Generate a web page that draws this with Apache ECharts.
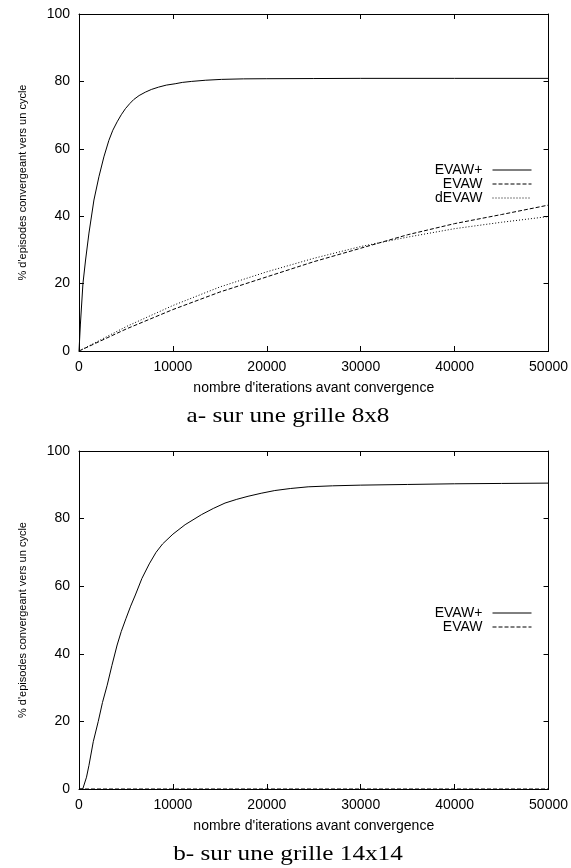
<!DOCTYPE html>
<html>
<head>
<meta charset="utf-8">
<script src="https://cdn.jsdelivr.net/npm/echarts@6/dist/echarts.min.js"></script>
<style>
html,body{margin:0;padding:0;background:#fff;}
#c{width:571px;height:868px;}
</style>
</head>
<body>
<div id="c"></div>
<script>
// ---- data ----
var xTicks = [0, 10000, 20000, 30000, 40000, 50000];
var yTicks = [0, 20, 40, 60, 80, 100];

// (a) 8x8 grid
var a_plus_x = [0, 150, 420, 700, 1060, 1590, 2120, 2650, 3180, 3600, 4060, 4500, 4940, 5400, 5820, 6400, 7060, 7700, 8470, 9300, 10240, 11000, 12000, 13500, 15180, 17500, 20000, 25000, 30000, 40000, 50000];
var a_plus_y = [0, 8, 20, 27, 35, 44.8, 51.7, 57.6, 62.5, 65.5, 68, 70.1, 71.9, 73.4, 74.6, 75.8, 76.8, 77.6, 78.3, 78.9, 79.3, 79.7, 80.0, 80.35, 80.6, 80.75, 80.8, 80.85, 80.9, 80.9, 80.9];
var a_evaw_x = [0, 5000, 10000, 15000, 20000, 25000, 30000, 35000, 40000, 45000, 50000];
var a_evaw_y = [0, 6.5, 12.3, 17.5, 22, 26.5, 30.5, 34.5, 37.8, 40.5, 43.3];
var a_devaw_x = [0, 5000, 10000, 15000, 20000, 25000, 30000, 35000, 40000, 45000, 50000];
var a_devaw_y = [0, 7.2, 13.5, 19, 23.5, 27.5, 31, 33.8, 36.3, 38.2, 39.9];

// (b) 14x14 grid
var b_plus_x = [0, 400, 800, 1060, 1520, 2050, 2500, 3000, 3500, 4060, 4500, 5010, 5500, 6000, 6700, 7480, 8200, 8900, 10000, 11300, 13060, 14300, 15550, 16800, 18000, 19400, 20850, 22500, 24400, 27000, 30000, 35000, 40000, 45000, 50000];
var b_plus_y = [0, 0, 3.5, 7, 14, 20, 25.6, 30.7, 36.5, 42.6, 46.6, 50.5, 54.1, 57.4, 62.3, 66.6, 70.0, 72.5, 75.4, 78.2, 81.2, 83.0, 84.6, 85.7, 86.6, 87.5, 88.3, 88.9, 89.4, 89.7, 89.9, 90.1, 90.3, 90.4, 90.5];
var b_evaw_x = [0, 50000];
var b_evaw_y = [0, 0];

var captionA = 'a- sur une grille 8x8';
var captionB = 'b- sur une grille 14x14';

function pairs(xs, ys){ var o=[]; for (var i=0;i<xs.length;i++) o.push([xs[i], ys[i]]); return o; }

var SANS = 'Liberation Sans, Arial, sans-serif';
var SERIF = 'Liberation Serif, Times New Roman, serif';

function xAx(grid, pos, labels){
  return {
    type:'value', gridIndex:grid, position:pos, min:xTicks[0], max:xTicks[xTicks.length-1], interval:10000,
    axisLine:{show:true, onZero:false, lineStyle:{color:'#000', width:1}},
    axisTick:{show:true, inside:true, length:5, lineStyle:{color:'#000'}},
    axisLabel:{show:labels, color:'#000', fontSize:14, fontFamily:SANS, margin:9, formatter:function(v){return String(v);}},
    splitLine:{show:false},
    name: labels ? "nombre d'iterations avant convergence" : '',
    nameLocation:'middle', nameGap:30,
    nameTextStyle:{color:'#000', fontSize:14, fontFamily:SANS}
  };
}
function yAx(grid, pos, labels){
  return {
    type:'value', gridIndex:grid, position:pos, min:yTicks[0], max:yTicks[yTicks.length-1], interval:20,
    axisLine:{show:true, onZero:false, lineStyle:{color:'#000', width:1}},
    axisTick:{show:true, inside:true, length:5, lineStyle:{color:'#000'}},
    axisLabel:{show:labels, color:'#000', fontSize:14, fontFamily:SANS, margin:9},
    splitLine:{show:false},
    name: labels ? "% d'episodes convergeant vers un cycle" : '',
    nameLocation:'middle', nameGap:51,
    nameTextStyle:{color:'#000', fontSize:11, fontFamily:SANS}
  };
}
function line(name, data, xi, yi, type){
  return {
    name:name, type:'line', data:data, xAxisIndex:xi, yAxisIndex:yi,
    symbol:'none', smooth:false, animation:false,
    lineStyle:{color:'#000', width:1, type:type},
    itemStyle:{color:'#000'}
  };
}
function legend(names, top){
  return {data:names, orient:'vertical', right:39, top:top, align:'right', padding:0,
     itemWidth:39, itemHeight:8, itemGap:0, selectedMode:false,
     itemStyle:{opacity:0, borderWidth:0},
     lineStyle:{width:1, color:'#000'},
     textStyle:{color:'#000', fontSize:14, fontFamily:SANS, lineHeight:13.7, padding:[0,5,0,0]}};
}
function caption(text, y){
  return {type:'text', x:288, y:y, scaleX:1.2, originX:0, originY:0, silent:true,
    style:{text:text, fill:'#000', font:'21px ' + SERIF, textAlign:'center', textVerticalAlign:'top'}};
}

var chart = echarts.init(document.getElementById('c'), null, {renderer:'canvas'});
chart.setOption({
  animation:false,
  backgroundColor:'#fff',
  grid:[
    {left:79, top:14, width:470, height:337},
    {left:79, top:451, width:470, height:338}
  ],
  xAxis:[xAx(0,'bottom',true), xAx(0,'top',false), xAx(1,'bottom',true), xAx(1,'top',false)],
  yAxis:[yAx(0,'left',true), yAx(0,'right',false), yAx(1,'left',true), yAx(1,'right',false)],
  legend:[legend(['EVAW+','EVAW','dEVAW'], 163), legend(['EVAW+','EVAW'], 606)],
  graphic:[caption(captionA, 406), caption(captionB, 844)],
  series:[
    line('EVAW+', pairs(a_plus_x, a_plus_y), 0, 0, 'solid'),
    line('EVAW', pairs(a_evaw_x, a_evaw_y), 0, 0, [4,2]),
    line('dEVAW', pairs(a_devaw_x, a_devaw_y), 0, 0, [1,2]),
    line('EVAW+', pairs(b_plus_x, b_plus_y), 2, 2, 'solid'),
    line('EVAW', pairs(b_evaw_x, b_evaw_y), 2, 2, [4,2])
  ]
});
</script>
</body>
</html>
